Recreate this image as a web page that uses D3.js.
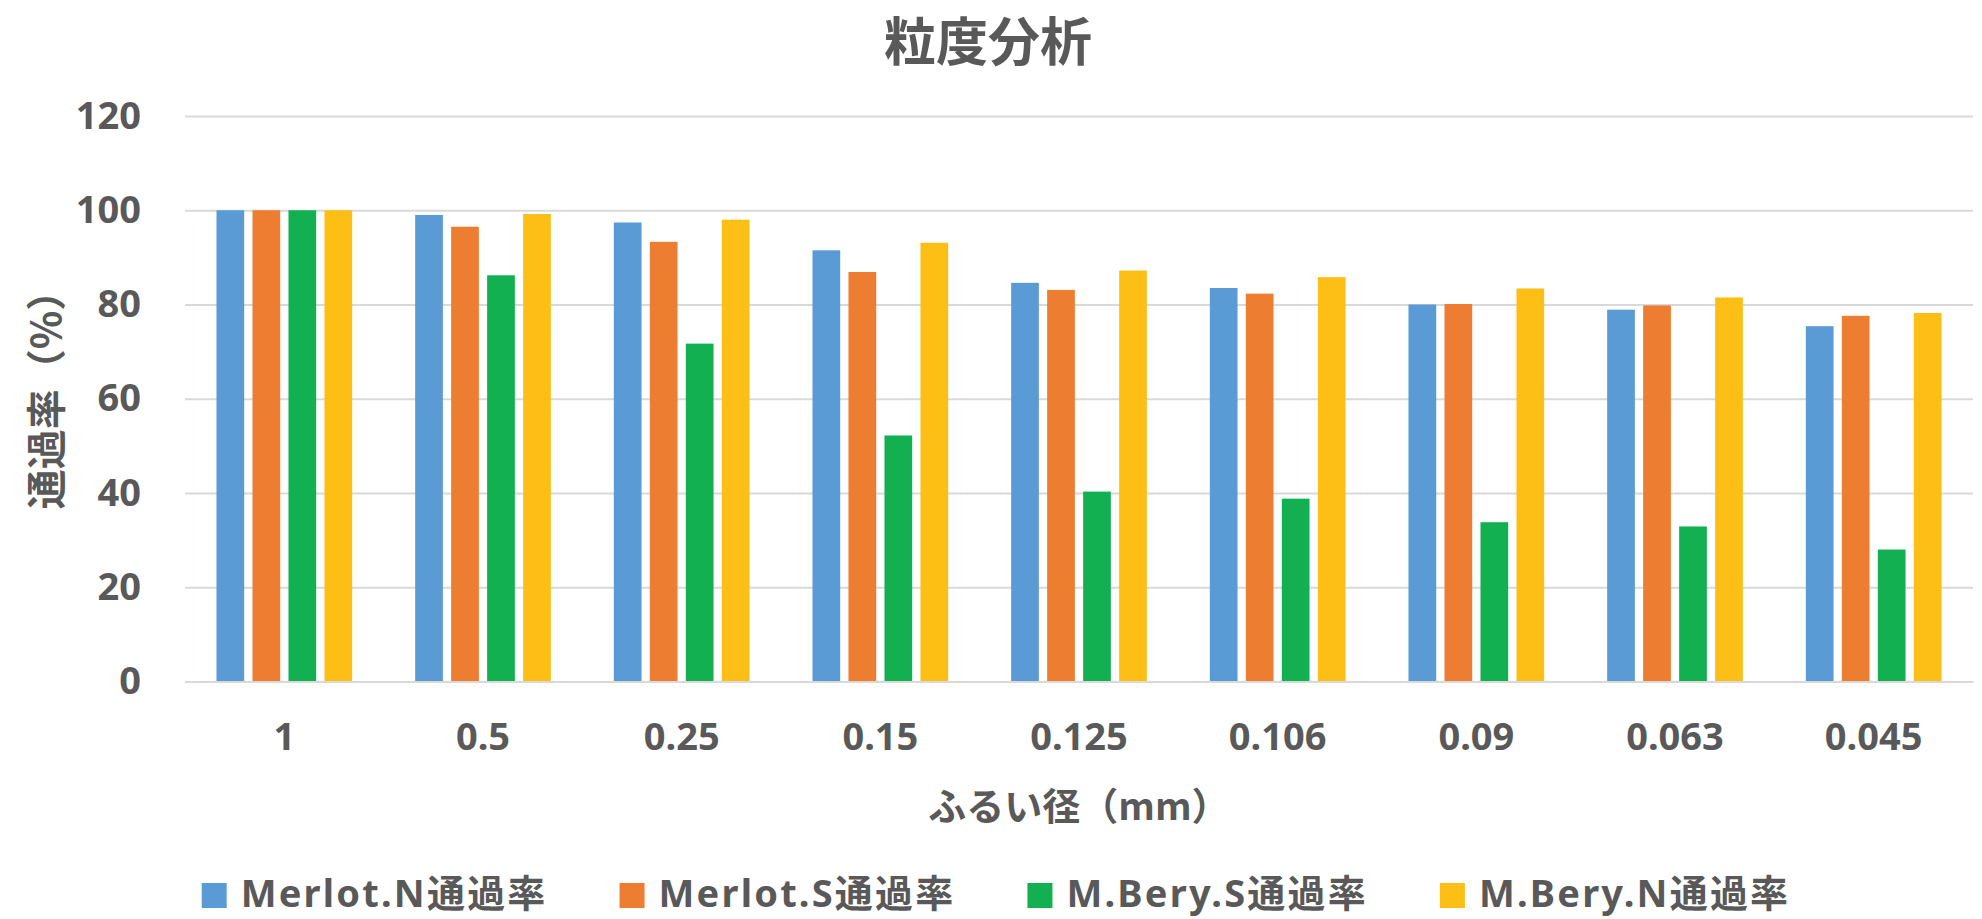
<!DOCTYPE html>
<html>
<head>
<meta charset="utf-8">
<script src="https://cdn.jsdelivr.net/npm/d3@7"></script>
<style>
  html, body { margin: 0; padding: 0; background: #ffffff; }
  svg { display: block; }
  text { font-family: "Noto Sans", "Noto Sans CJK JP", sans-serif; font-weight: 700; fill: #595959; }
  .cjk { font-family: "Noto Sans CJK JP", "Noto Sans", sans-serif; }
</style>
</head>
<body>
<svg id="chart" width="1982" height="919"></svg>
<script>
// Sieve sizes (mm) and passing percentages per sample
const categories = ["1", "0.5", "0.25", "0.15", "0.125", "0.106", "0.09", "0.063", "0.045"];
const seriesNames = ["Merlot.N通過率", "Merlot.S通過率", "M.Bery.S通過率", "M.Bery.N通過率"];
const merlotN = [100, 99.0, 97.4, 91.5, 84.6, 83.5, 80.0, 78.9, 75.4];
const merlotS = [100, 96.5, 93.3, 86.9, 83.1, 82.3, 80.1, 79.8, 77.6];
const mberyS  = [100, 86.2, 71.7, 52.2, 40.3, 38.8, 33.8, 32.9, 28.0];
const mberyN  = [100, 99.2, 98.0, 93.1, 87.2, 85.8, 83.4, 81.5, 78.2];
const yTicks = [0, 20, 40, 60, 80, 100, 120];
const colors = ["#5B9BD5", "#ED7D31", "#13B051", "#FDBF15"];

const seriesValues = [merlotN, merlotS, mberyS, mberyN];

const svg = d3.select("#chart");
const plot = { left: 185, right: 1973, top: 116, bottom: 681.5 };

const x0 = d3.scaleBand().domain(categories).range([plot.left, plot.right]).padding(0);
const x1 = d3.scaleBand().domain(d3.range(seriesNames.length))
  .range([0, x0.bandwidth()]).paddingInner(0.23).paddingOuter(0.875);
const y = d3.scaleLinear().domain([0, 120]).range([plot.bottom, plot.top]);

// Horizontal gridlines and value labels
const yAxis = svg.append("g")
  .attr("transform", `translate(${plot.left},0)`)
  .call(d3.axisLeft(y).tickValues(yTicks).tickSize(-(plot.right - plot.left)).tickPadding(44));
yAxis.select(".domain").remove();
yAxis.selectAll(".tick line").attr("stroke", "#d9d9d9").attr("stroke-width", 2);
yAxis.selectAll(".tick text")
  .style("font-size", "38px")
  .attr("fill", "#595959");

// Bars
const groups = svg.append("g").selectAll("g")
  .data(categories)
  .join("g")
  .attr("transform", d => `translate(${x0(d)},0)`);

groups.selectAll("rect")
  .data((c, i) => seriesValues.map((vals, s) => ({ s, v: vals[i] })))
  .join("rect")
  .attr("x", d => x1(d.s))
  .attr("width", x1.bandwidth())
  .attr("y", d => y(d.v))
  .attr("height", d => y(0) - y(d.v))
  .attr("fill", d => colors[d.s]);

// Category axis
const xAxis = svg.append("g")
  .attr("transform", `translate(0,${y(0)})`)
  .call(d3.axisBottom(x0).tickSize(0).tickPadding(42));
xAxis.select(".domain").attr("stroke", "#d9d9d9").attr("stroke-width", 2);
xAxis.selectAll(".tick text")
  .style("font-size", "38px")
  .attr("fill", "#595959");

// Title
svg.append("text")
  .attr("class", "cjk")
  .attr("x", 988)
  .attr("y", 38)
  .attr("text-anchor", "middle")
  .attr("dominant-baseline", "central")
  .style("font-size", "52px")
  .text("粒度分析");

// Axis titles
svg.append("text")
  .attr("class", "cjk")
  .attr("x", (plot.left + plot.right) / 2)
  .attr("y", 803)
  .attr("text-anchor", "middle")
  .attr("dominant-baseline", "central")
  .style("font-size", "38px")
  .text("ふるい径（mm）");

svg.append("text")
  .attr("class", "cjk")
  .attr("transform", `translate(44,390) rotate(-90)`)
  .attr("text-anchor", "middle")
  .attr("dominant-baseline", "central")
  .style("font-size", "40px")
  .text("通過率（%）");

// Legend
const legend = svg.append("g");
const items = legend.selectAll("g")
  .data(seriesNames)
  .join("g");
items.append("rect")
  .attr("width", 25).attr("height", 25)
  .attr("y", -12.5)
  .attr("fill", (d, i) => colors[i]);
items.append("text")
  .attr("x", 39)
  .attr("y", 11)
  .style("font-size", "38px")
  .style("letter-spacing", "2.2px")
  .text(d => d);

let cursor = 0;
const offsets = [];
items.each(function () {
  offsets.push(cursor);
  const w = this.querySelector("text").getComputedTextLength();
  cursor += 39 + w + 72;
});
const totalWidth = cursor - 72;
const legendStart = 996 - totalWidth / 2;
items.attr("transform", (d, i) => `translate(${legendStart + offsets[i]},895.5)`);
</script>
</body>
</html>
